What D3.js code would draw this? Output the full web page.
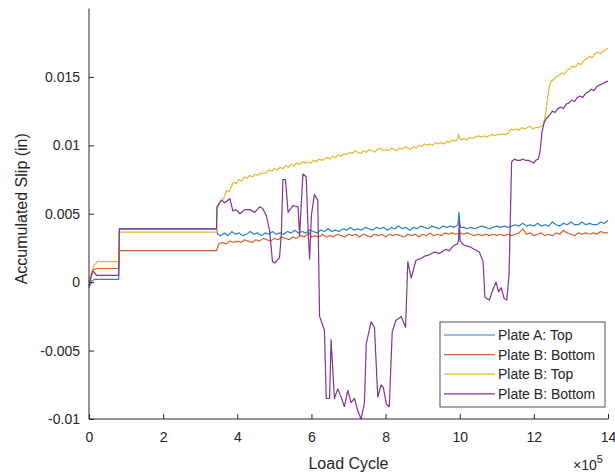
<!DOCTYPE html>
<html>
<head>
<meta charset="utf-8">
<script src="https://cdn.jsdelivr.net/npm/d3@7"></script>
<style>
  html, body { margin: 0; padding: 0; background: #fff; }
  svg { display: block; font-family: "Liberation Sans", Arial, Helvetica, sans-serif; }
</style>
</head>
<body>
<svg id="chart" width="615" height="473"></svg>
<script>
// Load cycle in units of 1e5, accumulated slip in inches
const xTicks = [0, 2, 4, 6, 8, 10, 12, 14];
const yTicks = [-0.01, -0.005, 0, 0.005, 0.01, 0.015];
const yTickLabels = ["-0.01", "-0.005", "0", "0.005", "0.01", "0.015"];
const seriesNames = ["Plate A: Top", "Plate B: Bottom", "Plate B: Top", "Plate B: Bottom"];
const seriesColors = ["#2a84c4", "#d9612b", "#eab630", "#7f368f"];

const plateATop = [
  [0, -0.0004], [0.03, -0.0002], [0.08, 0.0001], [0.15, 0.0002], [0.8, 0.0002], [0.82, 0.0039],
  [3.44, 0.0039], [3.47, 0.0035], [3.55, 0.0034], [3.65, 0.0036], [3.75, 0.0034], [3.85, 0.0037],
  [3.95, 0.0035], [4.05, 0.0036], [4.15, 0.0034], [4.25, 0.0035], [4.35, 0.0037], [4.45, 0.0035],
  [4.55, 0.0036], [4.65, 0.0034], [4.75, 0.0036], [4.85, 0.0035], [4.95, 0.0037], [5.05, 0.0035],
  [5.15, 0.0036], [5.25, 0.0035], [5.35, 0.0037], [5.45, 0.0036], [5.55, 0.0038], [5.65, 0.0036],
  [5.75, 0.0037], [5.85, 0.0036], [5.95, 0.0038], [6.05, 0.0037], [6.15, 0.0036], [6.25, 0.0038],
  [6.35, 0.0037], [6.45, 0.0039], [6.55, 0.0037], [6.65, 0.0038], [6.75, 0.0037], [6.85, 0.0039],
  [6.95, 0.0038], [7.05, 0.0040], [7.15, 0.0038], [7.25, 0.0039], [7.35, 0.0038], [7.45, 0.0040],
  [7.55, 0.0039], [7.65, 0.0038], [7.75, 0.0040], [7.85, 0.0039], [7.95, 0.0040], [8.05, 0.0038],
  [8.15, 0.0040], [8.25, 0.0039], [8.35, 0.0041], [8.45, 0.0039], [8.55, 0.0040], [8.65, 0.0038],
  [8.75, 0.0040], [8.85, 0.0039], [8.95, 0.0041], [9.05, 0.0040], [9.15, 0.0039], [9.25, 0.0041],
  [9.35, 0.0040], [9.45, 0.0039], [9.55, 0.0041], [9.65, 0.0040], [9.75, 0.0041], [9.85, 0.0040],
  [9.95, 0.0042], [9.98, 0.0051], [10.0, 0.0044], [10.02, 0.0040], [10.1, 0.0040], [10.2, 0.0039],
  [10.3, 0.0040], [10.4, 0.0039], [10.5, 0.0040], [10.6, 0.0041], [10.7, 0.0040], [10.8, 0.0039],
  [10.9, 0.0040], [11.0, 0.0041], [11.1, 0.0040], [11.2, 0.0041], [11.3, 0.0040], [11.4, 0.0041],
  [11.5, 0.0042], [11.6, 0.0041], [11.7, 0.0043], [11.8, 0.0041], [11.9, 0.0042], [12.0, 0.0041],
  [12.1, 0.0043], [12.2, 0.0041], [12.3, 0.0042], [12.4, 0.0041], [12.5, 0.0044], [12.6, 0.0042],
  [12.7, 0.0041], [12.8, 0.0043], [12.9, 0.0042], [13.0, 0.0044], [13.1, 0.0042], [13.2, 0.0042],
  [13.3, 0.0044], [13.4, 0.0042], [13.5, 0.0043], [13.6, 0.0042], [13.7, 0.0042], [13.8, 0.0044],
  [13.9, 0.0043], [14.0, 0.0045]
];

const plateBBottom = [
  [0, 0], [0.05, 0.0005], [0.12, 0.0009], [0.2, 0.0010], [0.8, 0.0010], [0.82, 0.0023],
  [3.44, 0.0023], [3.5, 0.0028], [3.6, 0.0029], [3.7, 0.0028], [3.8, 0.0030], [3.9, 0.0029],
  [4.0, 0.0030], [4.1, 0.0029], [4.2, 0.0031], [4.3, 0.0030], [4.4, 0.0029], [4.5, 0.0031],
  [4.6, 0.0030], [4.7, 0.0032], [4.8, 0.0031], [4.9, 0.0030], [5.0, 0.0032], [5.1, 0.0031],
  [5.2, 0.0033], [5.3, 0.0032], [5.4, 0.0031], [5.5, 0.0033], [5.6, 0.0032], [5.7, 0.0034],
  [5.8, 0.0033], [5.9, 0.0035], [5.95, 0.0036], [6.0, 0.0033], [6.1, 0.0034], [6.2, 0.0033],
  [6.3, 0.0035], [6.4, 0.0033], [6.5, 0.0034], [6.6, 0.0033], [6.7, 0.0035], [6.8, 0.0034],
  [6.9, 0.0033], [7.0, 0.0035], [7.1, 0.0034], [7.2, 0.0035], [7.3, 0.0033], [7.4, 0.0035],
  [7.5, 0.0034], [7.6, 0.0033], [7.7, 0.0035], [7.8, 0.0034], [7.9, 0.0035], [8.0, 0.0033],
  [8.1, 0.0035], [8.2, 0.0034], [8.3, 0.0035], [8.4, 0.0034], [8.5, 0.0033], [8.6, 0.0035],
  [8.7, 0.0034], [8.8, 0.0035], [8.9, 0.0033], [9.0, 0.0035], [9.1, 0.0034], [9.2, 0.0036],
  [9.3, 0.0034], [9.4, 0.0035], [9.5, 0.0034], [9.6, 0.0036], [9.7, 0.0035], [9.8, 0.0036],
  [9.9, 0.0035], [10.0, 0.0036], [10.1, 0.0035], [10.2, 0.0036], [10.3, 0.0035], [10.4, 0.0034],
  [10.5, 0.0035], [10.6, 0.0034], [10.7, 0.0035], [10.8, 0.0034], [10.9, 0.0035], [11.0, 0.0034],
  [11.1, 0.0035], [11.2, 0.0034], [11.3, 0.0035], [11.4, 0.0034], [11.5, 0.0035], [11.6, 0.0036],
  [11.7, 0.0039], [11.8, 0.0035], [11.9, 0.0036], [12.0, 0.0034], [12.1, 0.0035], [12.2, 0.0036],
  [12.3, 0.0034], [12.4, 0.0035], [12.5, 0.0034], [12.6, 0.0036], [12.7, 0.0035], [12.8, 0.0038],
  [12.9, 0.0036], [13.0, 0.0035], [13.1, 0.0034], [13.2, 0.0036], [13.3, 0.0035], [13.4, 0.0036],
  [13.5, 0.0035], [13.6, 0.0036], [13.7, 0.0035], [13.8, 0.0037], [13.9, 0.0036], [14.0, 0.0036]
];

const plateBTop = [
  [0, 0], [0.03, 0.0004], [0.08, 0.0008], [0.14, 0.0012], [0.22, 0.0015], [0.8, 0.0015], [0.82, 0.00365],
  [3.44, 0.00365], [3.46, 0.0053], [3.52, 0.0058], [3.6, 0.0060], [3.66, 0.0063], [3.71, 0.0067],
  [3.78, 0.0066], [3.84, 0.0070], [3.9, 0.0073], [3.97, 0.0072], [4.04, 0.0075], [4.12, 0.0074],
  [4.2, 0.0077], [4.27, 0.0076], [4.33, 0.0078], [4.41, 0.0077], [4.48, 0.0079], [4.56, 0.0078],
  [4.63, 0.0080], [4.7, 0.0079], [4.78, 0.0080], [4.86, 0.0082], [4.93, 0.0081], [5.0, 0.0083],
  [5.08, 0.0082], [5.15, 0.0084], [5.23, 0.0083], [5.3, 0.0085], [5.38, 0.0084], [5.45, 0.0086],
  [5.53, 0.0085], [5.6, 0.0087], [5.68, 0.0086], [5.76, 0.0088], [5.83, 0.0087], [5.9, 0.0088],
  [5.98, 0.0087], [6.05, 0.0089], [6.13, 0.0088], [6.2, 0.0090], [6.28, 0.0089], [6.35, 0.0090],
  [6.43, 0.0091], [6.5, 0.0090], [6.57, 0.0092], [6.65, 0.0091], [6.72, 0.0093], [6.8, 0.0092],
  [6.88, 0.0094], [6.95, 0.0093], [7.03, 0.0095], [7.1, 0.0094], [7.18, 0.0096], [7.25, 0.0095],
  [7.33, 0.0094], [7.4, 0.0096], [7.48, 0.0095], [7.56, 0.0097], [7.63, 0.0096], [7.7, 0.0095],
  [7.78, 0.0097], [7.85, 0.0098], [7.93, 0.0096], [8.0, 0.0097], [8.08, 0.0096], [8.15, 0.0098],
  [8.23, 0.0097], [8.3, 0.0096], [8.37, 0.0098], [8.45, 0.0097], [8.52, 0.0099], [8.6, 0.0098],
  [8.67, 0.0097], [8.75, 0.0099], [8.82, 0.0098], [8.9, 0.0100], [8.97, 0.0099], [9.05, 0.0101],
  [9.12, 0.0100], [9.2, 0.0101], [9.27, 0.0100], [9.35, 0.0102], [9.42, 0.0101], [9.5, 0.0102],
  [9.57, 0.0101], [9.65, 0.0103], [9.72, 0.0102], [9.8, 0.0104], [9.87, 0.0103], [9.93, 0.0104],
  [9.97, 0.0108], [10.0, 0.0105], [10.05, 0.0104], [10.12, 0.0105], [10.2, 0.0104], [10.27, 0.0106],
  [10.35, 0.0105], [10.42, 0.0106], [10.5, 0.0107], [10.57, 0.0106], [10.65, 0.0107], [10.72, 0.0106],
  [10.8, 0.0107], [10.87, 0.0108], [10.95, 0.0107], [11.02, 0.0108], [11.1, 0.0108], [11.17, 0.0108],
  [11.25, 0.0108], [11.32, 0.0109], [11.38, 0.0112], [11.45, 0.0111], [11.52, 0.0112], [11.6, 0.0111],
  [11.67, 0.0113], [11.75, 0.0112], [11.82, 0.0113], [11.9, 0.0114], [11.97, 0.0112], [12.05, 0.0113],
  [12.12, 0.0113], [12.2, 0.0114], [12.26, 0.0115], [12.31, 0.0122], [12.36, 0.0133], [12.42, 0.0143],
  [12.47, 0.0147], [12.54, 0.0148], [12.6, 0.0150], [12.68, 0.0151], [12.75, 0.0153], [12.82, 0.0152],
  [12.9, 0.0155], [12.97, 0.0156], [13.05, 0.0158], [13.12, 0.0157], [13.2, 0.0160], [13.27, 0.0159],
  [13.35, 0.0162], [13.42, 0.0163], [13.5, 0.0165], [13.57, 0.0164], [13.65, 0.0167], [13.72, 0.0168],
  [13.8, 0.0167], [13.87, 0.0169], [13.95, 0.0170], [14.0, 0.0171]
];

const plateBBottom2 = [
  [0, -0.0003], [0.05, 0.0003], [0.1, 0.0008], [0.15, 0.0007], [0.2, 0.0005], [0.8, 0.0005], [0.82, 0.0039],
  [3.44, 0.0039], [3.45, 0.0055], [3.57, 0.0060], [3.66, 0.0058], [3.8, 0.0061], [3.88, 0.0052],
  [3.96, 0.0053], [4.07, 0.0050], [4.2, 0.0053], [4.34, 0.0053], [4.47, 0.0051], [4.6, 0.0055],
  [4.68, 0.0054], [4.78, 0.0049], [4.87, 0.0038], [4.95, 0.0015], [5.01, 0.0014], [5.14, 0.0018],
  [5.19, 0.0036], [5.23, 0.0075], [5.3, 0.0075], [5.37, 0.0051], [5.5, 0.0056], [5.64, 0.0055],
  [5.68, 0.0034], [5.77, 0.0079], [5.86, 0.0077], [5.9, 0.0045], [5.95, 0.0017], [6.0, 0.0049],
  [6.08, 0.0064], [6.17, 0.0060], [6.22, -0.0025], [6.35, -0.0035], [6.4, -0.0085], [6.49, -0.0085],
  [6.53, -0.0042], [6.62, -0.0085], [6.71, -0.0078], [6.8, -0.0084], [6.89, -0.0091], [6.98, -0.0079],
  [7.07, -0.0088], [7.16, -0.0085], [7.25, -0.0094], [7.34, -0.0100], [7.43, -0.0088], [7.48, -0.0045],
  [7.61, -0.0029], [7.7, -0.0033], [7.79, -0.0084], [7.88, -0.0075], [7.94, -0.0077], [8.02, -0.0089],
  [8.1, -0.0091], [8.18, -0.0036], [8.28, -0.0028], [8.42, -0.0025], [8.54, -0.0033], [8.6, 0.0015],
  [8.69, 0.0003], [8.82, 0.0016], [8.93, 0.0017], [9.05, 0.0019], [9.18, 0.0020], [9.32, 0.0022],
  [9.45, 0.0021], [9.63, 0.0024], [9.72, 0.0023], [9.85, 0.0027], [9.94, 0.0028], [9.97, 0.0031],
  [9.99, 0.0045], [10.01, 0.0030], [10.12, 0.0027], [10.26, 0.0026], [10.39, 0.0024], [10.53, 0.0022],
  [10.63, 0.0015], [10.68, -0.0011], [10.8, -0.0013], [10.9, -0.0005], [10.98, 0.0000], [11.05, -0.0007],
  [11.12, -0.0004], [11.2, -0.0012], [11.27, -0.0013], [11.33, 0.0005], [11.4, 0.0088], [11.48, 0.0090],
  [11.55, 0.0089], [11.63, 0.0089], [11.7, 0.0090], [11.78, 0.0089], [11.86, 0.0089], [11.93, 0.0088],
  [12.0, 0.0087], [12.05, 0.0089], [12.12, 0.0090], [12.17, 0.0096], [12.22, 0.0110], [12.28, 0.0117],
  [12.35, 0.0120], [12.42, 0.0122], [12.5, 0.0125], [12.57, 0.0124], [12.65, 0.0127], [12.72, 0.0128],
  [12.8, 0.0127], [12.87, 0.0130], [12.95, 0.0131], [13.02, 0.0133], [13.1, 0.0132], [13.17, 0.0135],
  [13.25, 0.0136], [13.32, 0.0135], [13.4, 0.0138], [13.47, 0.0139], [13.55, 0.0141], [13.62, 0.0140],
  [13.7, 0.0143], [13.77, 0.0144], [13.85, 0.0145], [13.92, 0.0146], [14.0, 0.0147]
];

const allSeries = [plateATop, plateBBottom, plateBTop, plateBBottom2];

const svg = d3.select("#chart");
const axisColor = "#262626";
const plot = { left: 89, right: 608, top: 8.5, bottom: 419 };

const x = d3.scaleLinear().domain([0, 14]).range([plot.left, plot.right]);
const y = d3.scaleLinear().domain([-0.01, 0.02]).range([plot.bottom, plot.top]);

// Data lines
const line = d3.line().x(d => x(d[0])).y(d => y(d[1]));
svg.append("g")
  .selectAll("path")
  .data(allSeries)
  .join("path")
  .attr("d", line)
  .attr("fill", "none")
  .attr("stroke", (d, i) => seriesColors[i])
  .attr("stroke-width", 1.2)
  .attr("stroke-linejoin", "round");

// Axes with inward ticks
const xAxis = d3.axisBottom(x).tickValues(xTicks).tickFormat(d3.format("d"))
  .tickSizeInner(-5).tickSizeOuter(0).tickPadding(13);
const yAxis = d3.axisLeft(y).tickValues(yTicks).tickFormat((d, i) => yTickLabels[i])
  .tickSizeInner(-5).tickSizeOuter(0).tickPadding(9);

const gx = svg.append("g").attr("transform", `translate(0,${plot.bottom})`).call(xAxis);
const gy = svg.append("g").attr("transform", `translate(${plot.left},0)`).call(yAxis);

// Extend the y axis line to the top of the plot area
gy.select(".domain").attr("d", `M0,${plot.top}V${plot.bottom}`);
gx.select(".domain").attr("d", `M${plot.left},0H${plot.right}`);

[gx, gy].forEach(g => {
  g.select(".domain").attr("stroke", axisColor).attr("stroke-width", 1);
  g.selectAll(".tick line").attr("stroke", axisColor).attr("stroke-width", 1);
  g.selectAll(".tick text").attr("fill", axisColor).style("font-size", "14px")
    .style("font-family", "\"Liberation Sans\", Arial, sans-serif");
});

// Axis titles
svg.append("text")
  .attr("x", (plot.left + plot.right) / 2)
  .attr("y", 469)
  .attr("text-anchor", "middle")
  .attr("fill", axisColor)
  .style("font-size", "16px")
  .text("Load Cycle");

svg.append("text")
  .attr("transform", `translate(27,${(plot.top + plot.bottom) / 2 - 5}) rotate(-90)`)
  .attr("text-anchor", "middle")
  .attr("fill", axisColor)
  .style("font-size", "16px")
  .text("Accumulated Slip (in)");

// Exponent label for the x axis
const expo = svg.append("text")
  .attr("x", 573)
  .attr("y", 470)
  .attr("fill", axisColor)
  .style("font-size", "14px");
expo.append("tspan").text("\u00d710");
expo.append("tspan").attr("dy", -7).style("font-size", "11px").text("5");

// Legend
const legend = svg.append("g").attr("transform", "translate(440,322)");
legend.append("rect")
  .attr("width", 165).attr("height", 85)
  .attr("fill", "#fff").attr("stroke", axisColor).attr("stroke-width", 0.8);
const rows = legend.selectAll("g.row")
  .data(seriesNames)
  .join("g")
  .attr("class", "row")
  .attr("transform", (d, i) => `translate(0,${13 + i * 19.6})`);
rows.append("line")
  .attr("x1", 4).attr("x2", 55)
  .attr("stroke", (d, i) => seriesColors[i])
  .attr("stroke-width", 1.2);
rows.append("text")
  .attr("x", 58).attr("dy", "0.35em")
  .attr("fill", axisColor)
  .style("font-size", "14px")
  .text(d => d);
</script>
</body>
</html>
